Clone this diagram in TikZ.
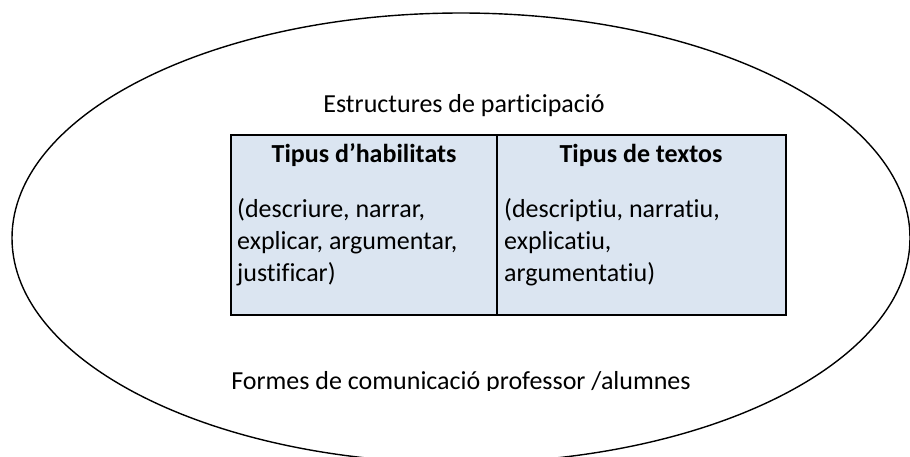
\documentclass[tikz,border=0pt]{standalone}
\usepackage{fontspec}
\setmainfont{Carlito}[Ligatures={NoCommon}]
\definecolor{cellblue}{HTML}{DBE5F1}
\begin{document}
\begin{tikzpicture}[x=1pt,y=-1pt,
  lbl/.style={inner sep=0pt, font=\fontsize{26}{32}\selectfont},
  head/.style={inner sep=0pt, font=\fontsize{26}{32}\selectfont\bfseries},
  cellfill/.style={fill=cellblue, draw=none, inner sep=0pt, outer sep=0pt, anchor=north west},
  frame/.style={draw=black, line width=2pt},
  divider/.style={draw=black, line width=1.3pt},
  outline/.style={draw=black, line width=1.4pt},
]
\useasboundingbox (0,0) rectangle (910,456);
\clip (0,0) rectangle (910,456);
% outer ellipse
\draw[outline] (461,238) ellipse [x radius=449, y radius=225];
% table cells
\node[cellfill, minimum width=266pt, minimum height=180pt] (cellA) at (231,135) {};
\node[cellfill, minimum width=289pt, minimum height=180pt] (cellB) at (497,135) {};
\draw[frame] (cellA.north west) rectangle (cellB.south east);
\draw[divider] (cellA.north east) -- (cellA.south east);
% texts
\node[lbl, anchor=base] (title) at (464,112) {Estructures de participació};
\node[head, anchor=base] (h1) at (364,162) {Tipus d’habilitats};
\node[head, anchor=base] (h2) at (641,162) {Tipus de textos};
\node[lbl, anchor=base west, align=left] (b1) at (237,281) {(descriure, narrar,\\explicar, argumentar,\\justificar)};
\node[lbl, anchor=base west, align=left] (b2) at (504,281) {(descriptiu, narratiu,\\explicatiu,\\argumentatiu)};
\begin{scope}
\clip (0,0) rectangle (910,390);
\node[lbl, anchor=base] (forms) at (461,389) {Formes de comunicació professor /alumnes};
\end{scope}
\end{tikzpicture}
\end{document}
